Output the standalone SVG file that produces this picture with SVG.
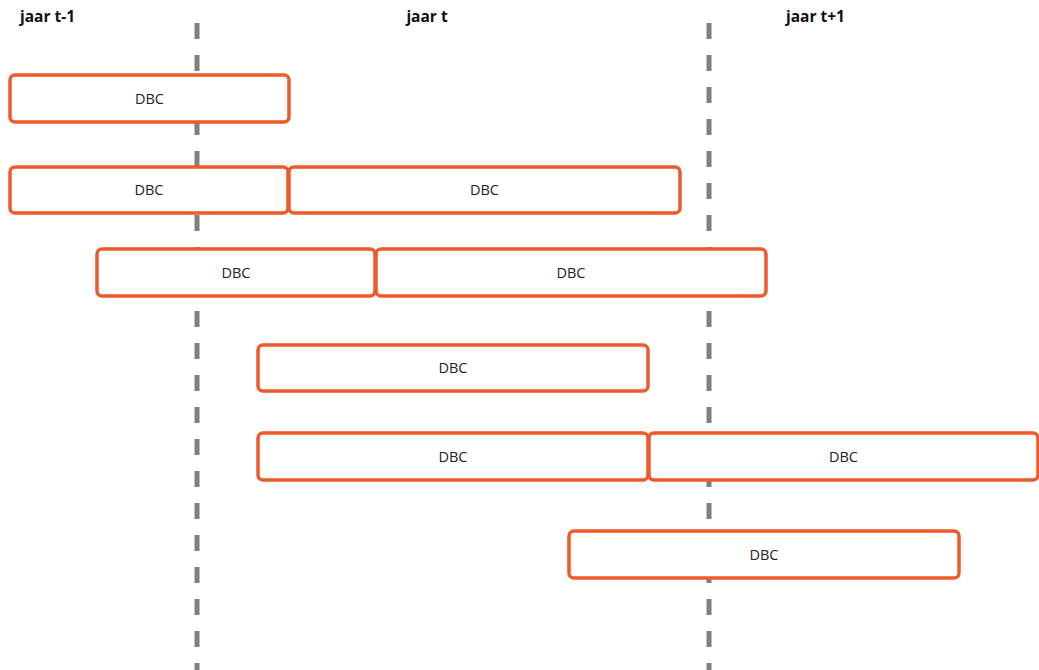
<svg xmlns="http://www.w3.org/2000/svg" width="1039" height="670" viewBox="0 0 1039 670">
<style>
.div{stroke:#808080;stroke-width:5;stroke-dasharray:16 16;fill:none}
.box{fill:#fff;stroke:#EE5A28;stroke-width:3.5}
.lbl{font-family:"Open Sans","Liberation Sans",sans-serif;font-size:14.5px;fill:#222;text-anchor:middle;dominant-baseline:central}
.hdr{font-family:"Open Sans","Liberation Sans",sans-serif;font-size:15.5px;font-weight:bold;fill:#111}
</style>
<rect width="1039" height="670" fill="#fff"/>
<g id="connectors">
<line class="div" x1="197" y1="23" x2="197" y2="670"/>
<line class="div" x1="709" y1="23" x2="709" y2="670"/>
</g>
<g id="headers">
<text class="hdr" x="20" y="22">jaar t-1</text>
<text class="hdr" x="427" y="22" text-anchor="middle">jaar t</text>
<text class="hdr" x="786" y="22">jaar t+1</text>
</g>
<g id="n1"><rect class="box" x="10" y="75" width="279" height="47" rx="5"/><text class="lbl" x="149.5" y="98">DBC</text></g>
<g id="n2a"><rect class="box" x="10" y="167" width="278" height="46" rx="5"/><text class="lbl" x="149" y="189">DBC</text></g>
<g id="n2b"><rect class="box" x="289" y="167" width="391" height="46" rx="5"/><text class="lbl" x="484.5" y="189">DBC</text></g>
<g id="n3a"><rect class="box" x="97" y="249" width="278" height="47" rx="5"/><text class="lbl" x="236" y="272">DBC</text></g>
<g id="n3b"><rect class="box" x="376" y="249" width="390" height="47" rx="5"/><text class="lbl" x="571" y="272">DBC</text></g>
<g id="n4"><rect class="box" x="258" y="345" width="390" height="46" rx="5"/><text class="lbl" x="453" y="367">DBC</text></g>
<g id="n5a"><rect class="box" x="258" y="433" width="390" height="47" rx="5"/><text class="lbl" x="453" y="456">DBC</text></g>
<g id="n5b"><rect class="box" x="649" y="433" width="389" height="47" rx="5"/><text class="lbl" x="843.5" y="456">DBC</text></g>
<g id="n6"><rect class="box" x="569" y="531" width="390" height="47" rx="5"/><text class="lbl" x="764" y="554">DBC</text></g>
</svg>
